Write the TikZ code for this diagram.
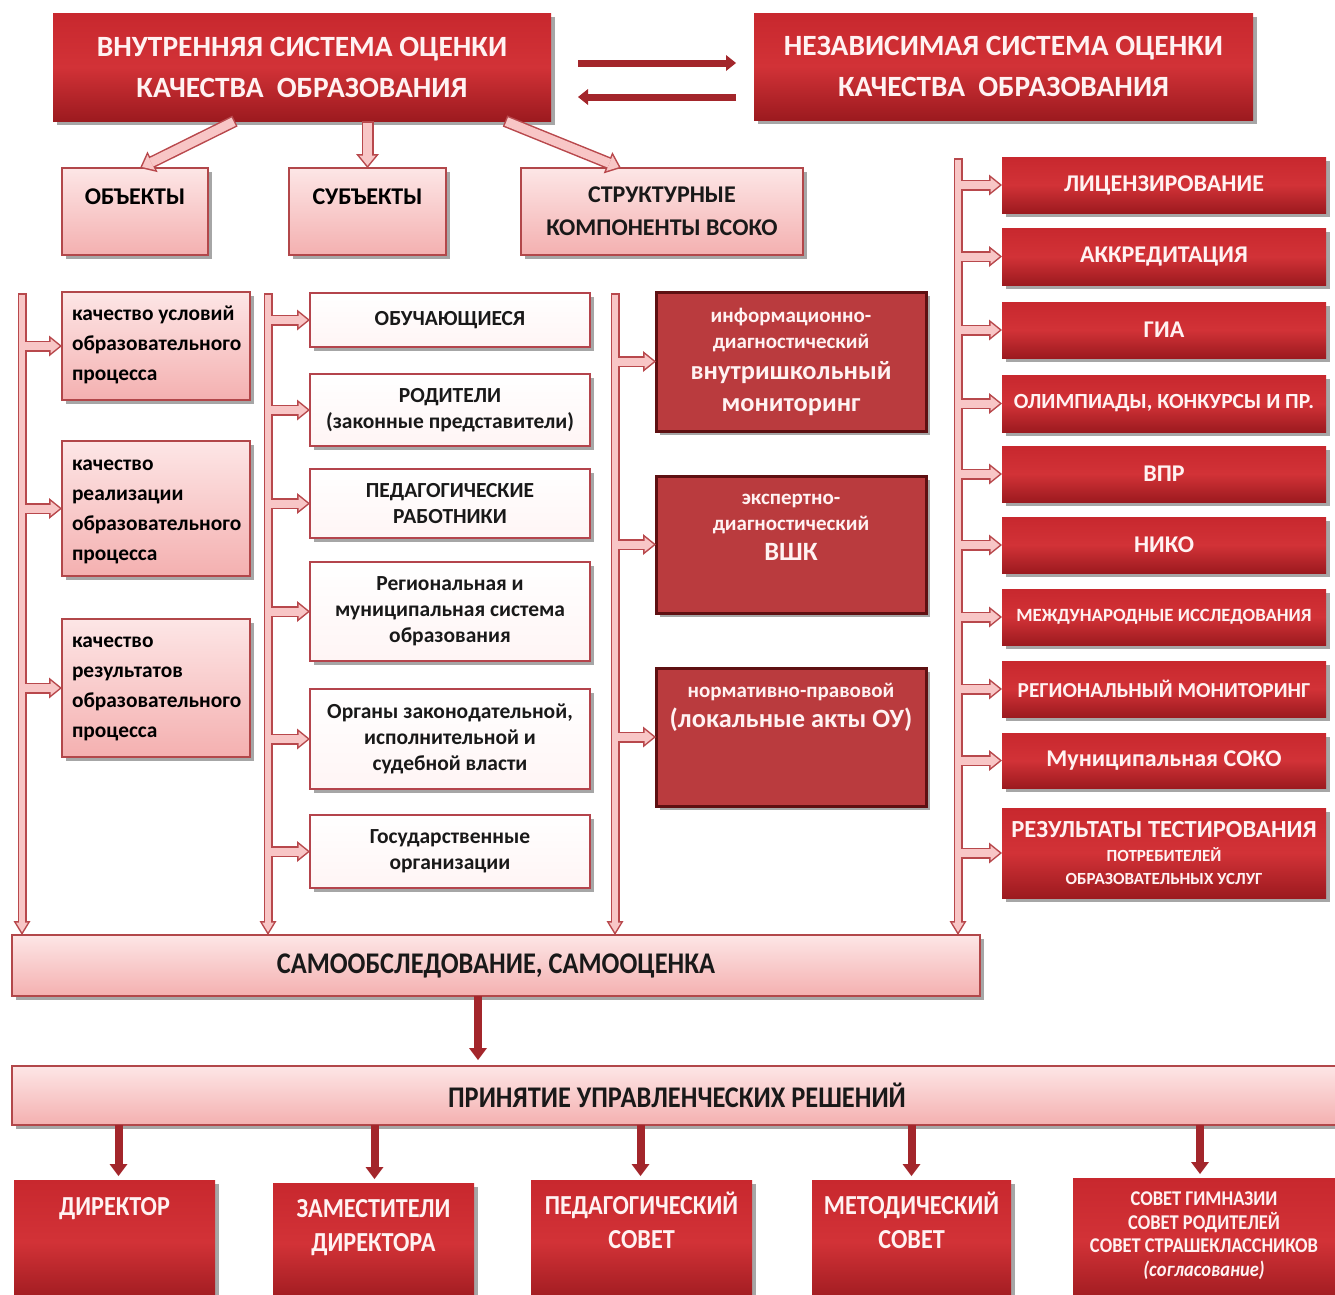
\documentclass[tikz,border=0pt]{standalone}
\usepackage{fontspec}
\setmainfont{Carlito}
\newfontfamily\cond[FakeStretch=0.88]{Carlito}
\usetikzlibrary{arrows.meta,calc,shadows}
\definecolor{hTop}{HTML}{C8282E}
\definecolor{hMid}{HTML}{D23237}
\definecolor{hBot}{HTML}{9C1A1F}
\definecolor{pTop}{HTML}{FDE6E6}
\definecolor{pBot}{HTML}{F4B0B0}
\definecolor{pLine}{HTML}{B2474A}
\definecolor{dFill}{HTML}{BA3B3E}
\definecolor{dLine}{HTML}{5E1012}
\definecolor{aFill}{HTML}{F8C6C6}
\definecolor{aLine}{HTML}{B8484C}
\definecolor{sArr}{HTML}{A3262B}
\definecolor{wText}{HTML}{FFF2F2}
\definecolor{sLine}{HTML}{B4444C}
\newcommand\fz[2]{\fontsize{#1}{#2}\selectfont}
\newcommand\st{\rule{0pt}{16pt}}
\newcommand\HollowAll[3]{%
  \draw[#1] (bar1) -- (bar1 |- samo.north);
  \draw[#1] (bar2) -- (bar2 |- samo.north);
  \draw[#1] (bar3) -- (bar3 |- samo.north);
  \draw[#1] (bar4) -- (bar4 |- samo.north);
  \foreach \b in {o1,o2,o3}{\draw[#2] (bar1 |- \b.west) -- (\b.west);}
  \foreach \b in {s1,s2,s3,s4,s5,s6}{\draw[#2] (bar2 |- \b.west) -- (\b.west);}
  \foreach \b in {d1,d2,d3}{\draw[#2] (bar3 |- \b.west) -- (\b.west);}
  \foreach \b in {r1,r2,r3,r4,r5,r6,r7,r8,r9,r10}{\draw[#2] (bar4 |- \b.west) -- (\b.west);}
  \draw[#3] ($(hdrL.south west)+(182,0)$) -- ($(obj.north)+(5,0)$);
  \draw[#3] (hdrL.south -| subj.north) -- (subj.north);
  \draw[#3] ($(hdrL.south west)+(452,0)$) -- ($(struc.north west)+(100,0)$);
}
\begin{document}
\begin{tikzpicture}[x=1pt,y=-1pt,font=\bfseries,
  shd/.style={drop shadow={shadow xshift=4pt,shadow yshift=-4pt,fill=black,opacity=.35}},
  base/.style={anchor=north west,inner sep=0pt,outer sep=0pt,align=center},
  redbox/.style={base,top color=hTop,bottom color=hBot,middle color=hMid,text=wText,shd},
  pinkbox/.style={base,top color=pTop,bottom color=pBot,draw=pLine,line width=1.5pt,text=black!90,shd},
  whitebox/.style={base,top color=white,bottom color=red!4,draw=sLine,line width=1.3pt,text=black!90,shd},
  darkbox/.style={base,fill=dFill,draw=dLine,line width=3pt,text=wText,shd},
  txt/.style={inner sep=0pt,outer sep=0pt,align=center},
  barO/.style={draw=aLine,line width=9pt,-{Triangle[length=14pt,width=17pt,line width=0pt]}},
  barI/.style={draw=aFill,line width=6pt,shorten >=2.9pt,shorten <=1.5pt,-{Triangle[length=9.6pt,width=11.7pt,line width=0pt]}},
  brO/.style={draw=aLine,line width=11pt,-{Triangle[length=13pt,width=21pt,line width=0pt]}},
  brI/.style={draw=aFill,line width=8pt,shorten >=2.4pt,-{Triangle[length=9.1pt,width=14.7pt,line width=0pt]}},
  topO/.style={draw=aLine,line width=12pt,-{Triangle[length=14pt,width=23pt,line width=0pt]}},
  topI/.style={draw=aFill,line width=9pt,shorten >=2.4pt,shorten <=1.5pt,-{Triangle[length=10.1pt,width=16.6pt,line width=0pt]}},
  sarrow/.style={draw=sArr,line width=8pt,-{Triangle[length=12pt,width=18pt,line width=0pt]}},
  harrow/.style={draw=sArr,line width=7pt,-{Triangle[length=10pt,width=16pt,line width=0pt]}}
]
\useasboundingbox (0,0) rectangle (1335,1294);
% headers
\node[redbox,minimum width=498pt,minimum height=108pt,font=\fz{29.4}{41}\bfseries] (hdrL) at (53,13) {ВНУТРЕННЯЯ СИСТЕМА ОЦЕНКИ\\КАЧЕСТВА\ \ ОБРАЗОВАНИЯ};
\node[redbox,minimum width=499pt,minimum height=107pt,font=\fz{29.4}{41}\bfseries] (hdrR) at (754,13) {НЕЗАВИСИМАЯ СИСТЕМА ОЦЕНКИ\\КАЧЕСТВА\ \ ОБРАЗОВАНИЯ};
\draw[harrow] ($(hdrL.east |- 0,63)+(27,0)$) -- ($(hdrR.west |- 0,63)+(-18,0)$);
\draw[harrow] ($(hdrR.west |- 0,97)+(-18,0)$) -- ($(hdrL.east |- 0,97)+(27,0)$);
% second row
\node[pinkbox,minimum width=146pt,minimum height=87pt] (obj) at (62,168) {};
\node[txt,anchor=base,font=\fz{24}{28}\bfseries] (objT) at ($(obj.north)+(0,36)$) {ОБЪЕКТЫ};
\node[pinkbox,minimum width=157pt,minimum height=87pt] (subj) at (289,168) {};
\node[txt,anchor=base,font=\fz{24}{28}\bfseries] (subjT) at ($(subj.north)+(0,36)$) {СУБЪЕКТЫ};
\node[pinkbox,minimum width=282pt,minimum height=87pt,font=\fz{24}{33}\bfseries] (struc) at (521,168) {СТРУКТУРНЫЕ\\КОМПОНЕНТЫ ВСОКО};
% objects
\node[pinkbox,minimum width=188pt,minimum height=108pt] (o1) at (62,292) {};
\node[pinkbox,minimum width=188pt,minimum height=135pt] (o2) at (62,441) {};
\node[pinkbox,minimum width=188pt,minimum height=138pt] (o3) at (62,619) {};
\node[txt,align=left,anchor=north west,font=\fz{21.4}{30}\bfseries] (o1T) at ($(o1.north west)+(10,12)$) {\st качество условий\\образовательного\\процесса};
\node[txt,align=left,anchor=north west,font=\fz{21.4}{30}\bfseries] (o2T) at ($(o2.north west)+(10,13)$) {\st качество\\реализации\\образовательного\\процесса};
\node[txt,align=left,anchor=north west,font=\fz{21.4}{30}\bfseries] (o3T) at ($(o3.north west)+(10,12)$) {\st качество\\результатов\\образовательного\\процесса};
% subjects
\begin{scope}[every node/.append style={font=\fz{21.5}{26}\bfseries}]
\node[whitebox,minimum width=280pt,minimum height=54pt] (s1) at (310,293) {ОБУЧАЮЩИЕСЯ};
\node[whitebox,minimum width=280pt,minimum height=72pt] (s2) at (310,374) {РОДИТЕЛИ\\(законные представители)};
\node[whitebox,minimum width=280pt,minimum height=69pt] (s3) at (310,469) {ПЕДАГОГИЧЕСКИЕ\\РАБОТНИКИ};
\node[whitebox,minimum width=280pt,minimum height=99pt] (s4) at (310,562) {Региональная и\\муниципальная система\\образования};
\node[whitebox,minimum width=280pt,minimum height=100pt] (s5) at (310,689) {Органы законодательной,\\исполнительной и\\судебной власти};
\node[whitebox,minimum width=280pt,minimum height=73pt] (s6) at (310,815) {Государственные\\организации};
\end{scope}
% structural components
\node[darkbox,minimum width=270pt,minimum height=139pt] (d1) at (656,292) {};
\node[darkbox,minimum width=270pt,minimum height=137pt] (d2) at (656,476) {};
\node[darkbox,minimum width=270pt,minimum height=138pt] (d3) at (656,668) {};
\node[txt,anchor=north,text=wText,font=\fz{21}{26}\bfseries] (d1T) at ($(d1.north)+(0,14)$) {\st\fz{21}{26}\bfseries информационно-\\\fz{21}{26}\bfseries диагностический\\[5pt]\fz{26.4}{26}\bfseries внутришкольный\\[6pt]\fz{26.4}{26}\bfseries мониторинг};
\node[txt,anchor=north,text=wText,font=\fz{21}{26}\bfseries] (d2T) at ($(d2.north)+(0,12)$) {\st\fz{21}{26}\bfseries экспертно-\\\fz{21}{26}\bfseries диагностический\\[4pt]\fz{26.4}{26}\bfseries ВШК};
\node[txt,anchor=north,text=wText,font=\fz{21}{26}\bfseries] (d3T) at ($(d3.north)+(0,13)$) {\st\fz{21}{26}\bfseries нормативно-правовой\\[4pt]\fz{26.4}{26}\bfseries (локальные акты ОУ)};
% right column
\begin{scope}[every node/.append style={font=\fz{24}{26}\bfseries}]
\node[redbox,minimum width=324pt,minimum height=56pt] (r1) at (1002,157) {ЛИЦЕНЗИРОВАНИЕ};
\node[redbox,minimum width=324pt,minimum height=57pt] (r2) at (1002,228) {АККРЕДИТАЦИЯ};
\node[redbox,minimum width=324pt,minimum height=56pt] (r3) at (1002,302) {ГИА};
\node[redbox,minimum width=324pt,minimum height=57pt,font=\fz{21.6}{24}\bfseries] (r4) at (1002,375) {ОЛИМПИАДЫ, КОНКУРСЫ И ПР.};
\node[redbox,minimum width=324pt,minimum height=56pt] (r5) at (1002,446) {ВПР};
\node[redbox,minimum width=324pt,minimum height=56pt] (r6) at (1002,517) {НИКО};
\node[redbox,minimum width=324pt,minimum height=56pt,font=\fz{18.7}{22}\bfseries] (r7) at (1002,589) {МЕЖДУНАРОДНЫЕ ИССЛЕДОВАНИЯ};
\node[redbox,minimum width=324pt,minimum height=56pt,font=\fz{21.3}{24}\bfseries] (r8) at (1002,661) {РЕГИОНАЛЬНЫЙ МОНИТОРИНГ};
\node[redbox,minimum width=324pt,minimum height=55pt] (r9) at (1002,733) {Муниципальная СОКО};
\node[redbox,minimum width=324pt,minimum height=90pt,font=\fz{18}{23}\bfseries] (r10) at (1002,808) {\fz{24.6}{23}\bfseries РЕЗУЛЬТАТЫ ТЕСТИРОВАНИЯ\\[1pt]\fz{17}{23}\bfseries ПОТРЕБИТЕЛЕЙ\\\fz{17}{23}\bfseries ОБРАЗОВАТЕЛЬНЫХ УСЛУГ};
\end{scope}
% self-evaluation and decisions
\node[pinkbox,minimum width=968pt,minimum height=61pt,font=\cond\fz{30}{32}\bfseries] (samo) at (12,935) {САМООБСЛЕДОВАНИЕ, САМООЦЕНКА};
\node[pinkbox,minimum width=1330pt,minimum height=59pt,font=\cond\fz{30}{32}\bfseries] (prin) at (12,1066) {ПРИНЯТИЕ УПРАВЛЕНЧЕСКИХ РЕШЕНИЙ};
% bottom boxes
\node[redbox,minimum width=201pt,minimum height=124pt] (b1) at (14,1180) {};
\node[redbox,minimum width=201pt,minimum height=121pt] (b2) at (273,1183) {};
\node[redbox,minimum width=221pt,minimum height=124pt] (b3) at (531,1180) {};
\node[redbox,minimum width=199pt,minimum height=124pt] (b4) at (812,1180) {};
\node[redbox,minimum width=262pt,minimum height=126pt] (b5) at (1073,1178) {};
\node[txt,anchor=north,text=wText,font=\cond\fz{27.5}{34}\bfseries] (b1T) at ($(b1.north)+(0,17)$) {ДИРЕКТОР};
\node[txt,anchor=north,text=wText,font=\cond\fz{27.5}{34}\bfseries] (b2T) at ($(b2.north)+(0,16)$) {ЗАМЕСТИТЕЛИ\\ДИРЕКТОРА};
\node[txt,anchor=north,text=wText,font=\cond\fz{27.5}{34}\bfseries] (b3T) at ($(b3.north)+(0,12)$) {ПЕДАГОГИЧЕСКИЙ\\СОВЕТ};
\node[txt,anchor=north,text=wText,font=\cond\fz{27.5}{34}\bfseries] (b4T) at ($(b4.north)+(0,12)$) {МЕТОДИЧЕСКИЙ\\СОВЕТ};
\node[txt,anchor=north,text=wText,font=\cond\fz{21}{23.5}\bfseries] (b5T) at ($(b5.north)+(0,14)$) {СОВЕТ ГИМНАЗИИ\\СОВЕТ РОДИТЕЛЕЙ\\СОВЕТ СТРАШЕКЛАССНИКОВ\\\textit{(согласование)}};
% bars and hollow arrows
\coordinate (bar1) at (22,293);
\coordinate (bar2) at (268,293);
\coordinate (bar3) at (615,293);
\coordinate (bar4) at (958,158);
\HollowAll{barO}{brO}{topO}
\HollowAll{barI}{brI}{topI}
% solid arrows
\coordinate (sa) at ($(samo.south)+(-18,0)$);
\draw[sarrow,shorten >=6pt] (sa) -- (sa |- prin.north);
\foreach \b/\dx in {b1/4,b2/1,b3/-1,b4/0,b5/-4}{\draw[sarrow,shorten >=4pt] ($(prin.south -| \b.north)+(\dx,0)$) -- ($(\b.north)+(\dx,0)$);}
\end{tikzpicture}
\end{document}
